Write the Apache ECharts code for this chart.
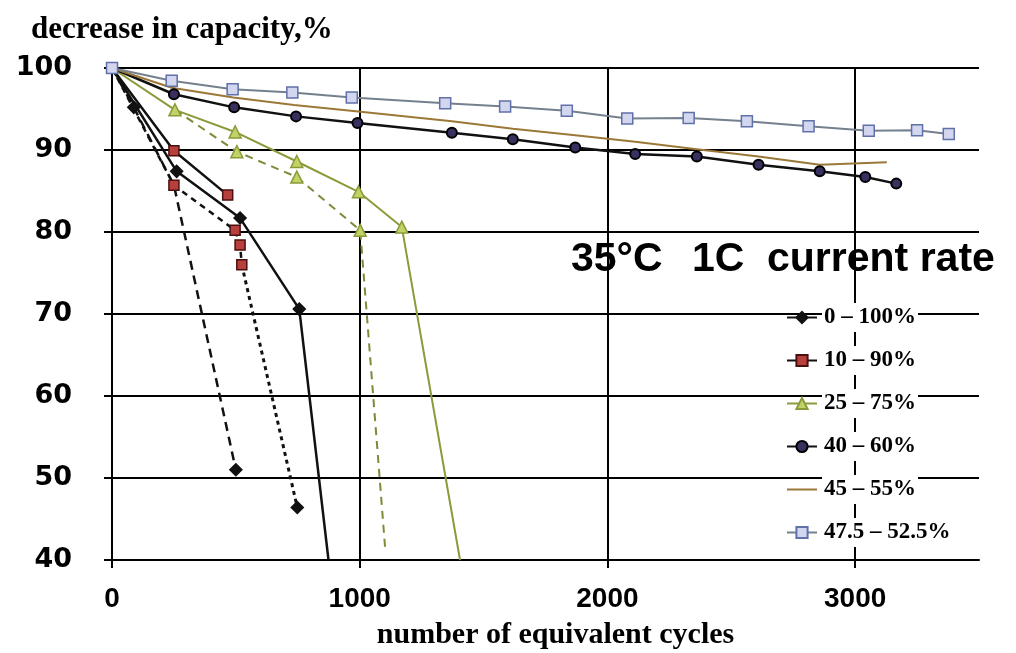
<!DOCTYPE html>
<html><head><meta charset="utf-8">
<script src="https://cdn.jsdelivr.net/npm/echarts@6/dist/echarts.min.js"></script>
<style>html,body{margin:0;padding:0;background:#fff}#c{width:1016px;height:653px}</style>
</head><body><div id="c"></div>
<script>
// ---- axes ----
const xTickValues = [0, 1000, 2000, 3000];
const yTickValues = [40, 50, 60, 70, 80, 90, 100];
const legendNames = ['0 – 100%', '10 – 90%', '25 – 75%', '40 – 60%', '45 – 55%', '47.5 – 52.5%'];

// ---- 0–100 % ----
const soc0_100_solid_x  = [0, 261, 517, 756, 874];
const soc0_100_solid_y  = [100, 87.4, 81.7, 70.6, 40];
const soc0_100_dashed_x = [0, 88, 250, 500];
const soc0_100_dashed_y = [100, 95.2, 85.7, 51.0];
const soc0_100_dotted_x = [524, 748];
const soc0_100_dotted_y = [76.0, 46.4];
// ---- 10–90 % ----
const soc10_90_solid_x  = [0, 250, 467];
const soc10_90_solid_y  = [100, 89.9, 84.5];
const soc10_90_dashed_x = [0, 250, 497, 517, 524];
const soc10_90_dashed_y = [100, 85.7, 80.2, 78.4, 76.0];
// ---- 25–75 % ----
const soc25_75_solid_x  = [0, 254, 497, 746, 995, 1170, 1405];
const soc25_75_solid_y  = [100, 94.9, 92.2, 88.6, 84.9, 80.6, 40];
const soc25_75_dashed_x = [254, 504, 746, 1002, 1103];
const soc25_75_dashed_y = [94.9, 89.8, 86.7, 80.2, 41.3];
// ---- 40–60 % ----
const soc40_60_x = [0, 250, 493, 743, 991, 1372, 1618, 1870, 2112, 2361, 2610, 2857, 3041, 3166];
const soc40_60_y = [100, 96.8, 95.2, 94.1, 93.3, 92.1, 91.3, 90.3, 89.5, 89.2, 88.2, 87.4, 86.7, 85.9];
// ---- 45–55 % ----
const soc45_55_x = [0, 241, 490, 735, 994, 1372, 1618, 1870, 2112, 2361, 2610, 2857, 3128];
const soc45_55_y = [100, 97.6, 96.4, 95.5, 94.7, 93.5, 92.6, 91.8, 91.0, 90.1, 89.2, 88.2, 88.5];
// ---- 47.5–52.5 % ----
const soc475_525_x = [0, 241, 487, 728, 968, 1345, 1587, 1836, 2080, 2328, 2563, 2812, 3055, 3250, 3378];
const soc475_525_y = [100, 98.45, 97.4, 97.0, 96.4, 95.7, 95.3, 94.8, 93.85, 93.9, 93.5, 92.9, 92.35, 92.4, 91.95];

const zip = (xs, ys) => xs.map((x, i) => [x, ys[i]]);

function mk(name, xs, ys, o) {
  const hide = o.hide || [];
  return {
    name, type: 'line', data: zip(xs, ys),
    symbol: o.symbol || 'none',
    symbolSize: (v, p) => hide.includes(p.dataIndex) ? 0 : (o.size || 10),
    showAllSymbol: true,
    lineStyle: { color: o.line, width: o.width || 2.5, type: o.type || 'solid' },
    itemStyle: { color: o.fill || o.line, borderColor: o.border || o.line, borderWidth: o.bw || 1.5 },
    z: o.z || 3, animation: false, emphasis: { disabled: true }
  };
}

const BLACK = '#111';
const series = [
  mk('0 – 100%', soc0_100_solid_x, soc0_100_solid_y, { line: BLACK, symbol: 'diamond', size: 12, hide: [0, 4] }),
  mk('0 – 100%', soc0_100_dashed_x, soc0_100_dashed_y, { line: BLACK, type: [9, 6], symbol: 'diamond', size: 12, hide: [0, 2] }),
  mk('0 – 100%', soc0_100_dotted_x, soc0_100_dotted_y, { line: BLACK, type: [4, 4], width: 3, symbol: 'diamond', size: 12, hide: [0] }),
  mk('10 – 90%', soc10_90_solid_x, soc10_90_solid_y, { line: BLACK, symbol: 'rect', size: 10, fill: '#b8403c', border: '#4a0f0f', hide: [0] }),
  mk('10 – 90%', soc10_90_dashed_x, soc10_90_dashed_y, { line: BLACK, type: [6, 5], symbol: 'rect', size: 10, fill: '#b8403c', border: '#4a0f0f', hide: [0] }),
  mk('25 – 75%', soc25_75_solid_x, soc25_75_solid_y, { line: '#8c9a3a', width: 2, symbol: 'triangle', size: 12, fill: '#c2d266', border: '#8c9a3a', hide: [0, 6] }),
  mk('25 – 75%', soc25_75_dashed_x, soc25_75_dashed_y, { line: '#7d8a3a', width: 2, type: [8, 6], symbol: 'triangle', size: 12, fill: '#c2d266', border: '#8c9a3a', hide: [0, 4] }),
  mk('40 – 60%', soc40_60_x, soc40_60_y, { line: BLACK, symbol: 'circle', size: 10, fill: '#3a3060', border: '#000', bw: 2, hide: [0] }),
  mk('45 – 55%', soc45_55_x, soc45_55_y, { line: '#9b7838', width: 2, symbol: 'none' }),
  mk('47.5 – 52.5%', soc475_525_x, soc475_525_y, { line: '#74808e', width: 2, symbol: 'rect', size: 11, fill: '#d2d6ee', border: '#6070a8', bw: 1.5, z: 4 })
];

const legendData = legendNames.map(n => n === '45 – 55%'
  ? { name: n, itemStyle: { color: 'rgba(0,0,0,0)', borderColor: 'rgba(0,0,0,0)', opacity: 0 } }
  : { name: n });

const chart = echarts.init(document.getElementById('c'), null, { renderer: 'canvas' });
chart.setOption({
  backgroundColor: '#fff',
  animation: false,
  grid: { left: 112, right: 37, top: 68, bottom: 93, containLabel: false, outerBoundsMode: 'none' },
  title: {
    text: 'decrease in capacity,%', left: 26, top: 9,
    textStyle: { fontFamily: 'Liberation Serif', fontWeight: 'bold', fontSize: 31, color: '#000', lineHeight: 31 }
  },
  legend: {
    data: legendData, orient: 'vertical', left: 781, top: 298,
    itemWidth: 30, itemHeight: 14, itemGap: 14, selectedMode: false,
    textStyle: { fontFamily: 'Liberation Serif', fontWeight: 'bold', fontSize: 23, lineHeight: 23, color: '#000',
                 backgroundColor: '#fff', padding: [3, 2, 3, 2] }
  },
  xAxis: {
    type: 'value', min: 0, max: 3500, interval: 1000,
    name: 'number of equivalent cycles', nameLocation: 'middle', nameGap: 60,
    nameTextStyle: { fontFamily: 'Liberation Serif', fontWeight: 'bold', fontSize: 30, color: '#000', padding: [0, 0, 0, 20] },
    axisLine: { show: true, lineStyle: { color: '#000', width: 2 } },
    axisTick: { show: true, length: 8, lineStyle: { color: '#000', width: 2 }, customValues: xTickValues },
    axisLabel: { customValues: xTickValues, formatter: v => String(v), fontFamily: 'Liberation Sans', fontWeight: 'bold', fontSize: 28, color: '#000', margin: 25 },
    splitLine: { show: true, lineStyle: { color: '#000', width: 2 } }
  },
  yAxis: {
    type: 'value', min: 40, max: 100, interval: 10,
    axisLine: { show: true, lineStyle: { color: '#000', width: 2 } },
    axisTick: { show: true, length: 8, lineStyle: { color: '#000', width: 2 }, customValues: yTickValues },
    axisLabel: { customValues: yTickValues, formatter: v => String(v), fontFamily: 'DejaVu Sans', fontWeight: 'bold', fontSize: 27, color: '#000', margin: 40 },
    splitLine: { show: true, lineStyle: { color: '#000', width: 2 } }
  },
  graphic: [
    { type: 'text', left: 571, top: 239, z: 10, style: { text: '35°C', font: 'bold 41px "Liberation Sans"', fill: '#000' } },
    { type: 'text', left: 692, top: 239, z: 10, style: { text: '1C', font: 'bold 41px "Liberation Sans"', fill: '#000' } },
    { type: 'text', left: 767, top: 239, z: 10, style: { text: 'current rate', font: 'bold 41px "Liberation Sans"', fill: '#000' } }
  ],
  series
});
</script></body></html>
